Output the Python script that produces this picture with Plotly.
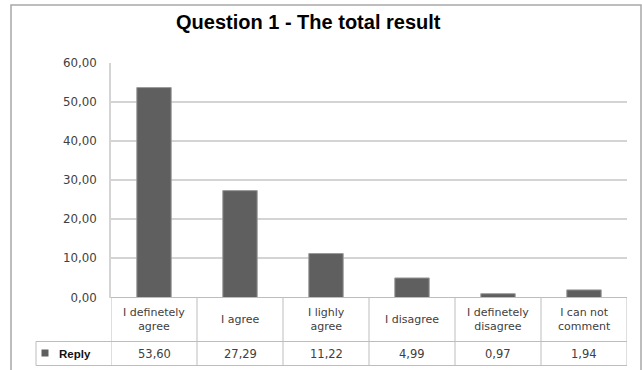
import plotly.graph_objects as go

# ---- data ----
categories = ["I definetely<br>agree", "I agree", "I lighly<br>agree", "I disagree",
              "I definetely<br>disagree", "I can not<br>comment"]
values = [53.60, 27.29, 11.22, 4.99, 0.97, 1.94]
series_name = "Reply"
title_text = "Question 1 - The total result"
y_ticks = [0, 10, 20, 30, 40, 50, 60]

W, H = 642, 370
def px(x):
    return x / W
def py(y):
    return 1 - y / H

BAR = "#5f5f5f"
GRID = "#d4d4d4"
TBL = "#bdbdbd"
TXT = "#404040"

idx = list(range(len(categories)))

fig = go.Figure()
fig.add_trace(go.Bar(
    x=idx, y=values, name=series_name, width=0.4,
    marker=dict(color=BAR, line=dict(color="#9a9a9a", width=1)),
    showlegend=False, hoverinfo="skip",
))

shapes = []
# outer frame
shapes.append(dict(type="rect", xref="paper", yref="paper",
                   x0=px(11), x1=px(641), y0=py(380), y1=py(5),
                   line=dict(color="#a8a8a8", width=1.5), fillcolor="rgba(0,0,0,0)", layer="below"))
# table horizontals
for y0, xa in [(297.5, 111), (341.5, 36), (365.5, 36)]:
    shapes.append(dict(type="line", xref="paper", yref="paper",
                       x0=px(xa), x1=px(627), y0=py(y0), y1=py(y0),
                       line=dict(color=TBL, width=1)))
# table verticals at category boundaries
for i in range(len(categories) + 1):
    shapes.append(dict(type="line", xref="x", yref="paper",
                       x0=i - 0.5, x1=i - 0.5, y0=py(297.5), y1=py(365.5),
                       line=dict(color=TBL, width=1)))
# legend cell left edge
shapes.append(dict(type="line", xref="paper", yref="paper",
                   x0=px(36), x1=px(36), y0=py(341.5), y1=py(365.5),
                   line=dict(color=TBL, width=1)))
# legend key square
shapes.append(dict(type="rect", xref="paper", yref="paper",
                   x0=px(41.5), x1=px(48.5), y0=py(356.5), y1=py(349.5),
                   line=dict(width=0), fillcolor=BAR))

annotations = []
# title
annotations.append(dict(text=f"<b>{title_text}</b>", xref="paper", yref="paper",
                        x=px(308.5), y=py(22), showarrow=False, xanchor="center", yanchor="middle",
                        font=dict(family="Liberation Sans, Arial", size=20, color="#000000")))
# category labels
for i, c in enumerate(categories):
    annotations.append(dict(text=c, xref="x", yref="paper", x=i, y=py(319.5),
                            showarrow=False, xanchor="center", yanchor="middle",
                            font=dict(family="DejaVu Sans", size=11, color=TXT)))
# values row
for i, v in enumerate(values):
    annotations.append(dict(text=f"{v:.2f}".replace(".", ","), xref="x", yref="paper", x=i, y=py(353.5),
                            showarrow=False, xanchor="center", yanchor="middle",
                            font=dict(family="DejaVu Sans", size=11.5, color=TXT)))
# legend label
annotations.append(dict(text=f"<b>{series_name}</b>", xref="paper", yref="paper",
                        x=px(57), y=py(353.5), showarrow=False, xanchor="left", yanchor="middle",
                        font=dict(family="Liberation Sans, Arial", size=11.5, color="#111111")))

fig.update_layout(
    width=W, height=H,
    autosize=False,
    margin=dict(l=0, r=0, t=0, b=0, pad=0, autoexpand=False),
    paper_bgcolor="white", plot_bgcolor="white",
    separators=",.",
    xaxis=dict(domain=[px(111), px(627)], range=[-0.5, len(categories) - 0.5], automargin=False,
               showticklabels=False, showgrid=False, zeroline=False, showline=False, fixedrange=True),
    yaxis=dict(domain=[py(297.5), py(62.5)], range=[0, 60], tickvals=y_ticks, tickformat=".2f",
               automargin=False,
               showgrid=True, gridcolor=GRID, gridwidth=1.5, zeroline=False,
               showline=True, linecolor=GRID, linewidth=1.5,
               ticks="", ticklabelstandoff=10,
               tickfont=dict(family="DejaVu Sans", size=11.8, color=TXT), fixedrange=True),
    shapes=shapes, annotations=annotations,
    bargap=0.6,
)

fig.write_html("out.html")
